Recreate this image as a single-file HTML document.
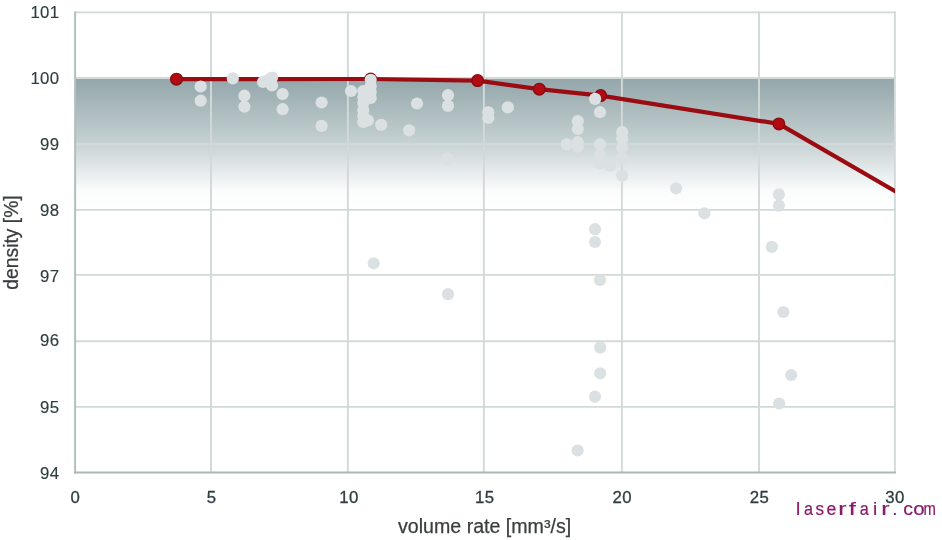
<!DOCTYPE html>
<html><head><meta charset="utf-8"><style>
html,body{margin:0;padding:0;background:#fff;width:942px;height:540px;overflow:hidden}
svg{display:block;will-change:transform}
text{font-family:"Liberation Sans",sans-serif}
</style></head><body>
<svg width="942" height="540" viewBox="0 0 942 540">
<defs>
<linearGradient id="band" x1="0" y1="0" x2="0" y2="1">
<stop offset="0" stop-color="#93a6aa"/>
<stop offset="0.47" stop-color="#c3cfd0"/>
<stop offset="0.86" stop-color="#fbfcfc"/>
<stop offset="1" stop-color="#ffffff"/>
</linearGradient>
<clipPath id="pc"><rect x="75" y="12.5" width="820" height="459"/></clipPath>
</defs>
<rect width="942" height="540" fill="#fff"/>

<rect x="75.1" y="78.11" width="819.8" height="131.43" fill="url(#band)"/>
<line x1="75.1" x2="895.9" y1="406.90" y2="406.90" stroke="#d2d9d9" stroke-width="1.9"/>
<line x1="75.1" x2="895.9" y1="341.20" y2="341.20" stroke="#d2d9d9" stroke-width="1.9"/>
<line x1="75.1" x2="895.9" y1="274.90" y2="274.90" stroke="#d2d9d9" stroke-width="1.9"/>
<line x1="75.1" x2="895.9" y1="209.90" y2="209.90" stroke="#d2d9d9" stroke-width="1.9"/>
<line x1="75.1" x2="895.9" y1="144.30" y2="144.30" stroke="#d2d9d9" stroke-width="1.9"/>
<line x1="75.1" x2="895.9" y1="78.00" y2="78.00" stroke="#d2d9d9" stroke-width="1.9"/>
<line x1="75.1" x2="895.9" y1="12.40" y2="12.40" stroke="#d2d9d9" stroke-width="1.9"/>
<line x1="211.00" x2="211.00" y1="11.4" y2="472.4" stroke="#d2d9d9" stroke-width="1.9"/>
<line x1="347.90" x2="347.90" y1="11.4" y2="472.4" stroke="#d2d9d9" stroke-width="1.9"/>
<line x1="483.90" x2="483.90" y1="11.4" y2="472.4" stroke="#d2d9d9" stroke-width="1.9"/>
<line x1="621.90" x2="621.90" y1="11.4" y2="472.4" stroke="#d2d9d9" stroke-width="1.9"/>
<line x1="759.00" x2="759.00" y1="11.4" y2="472.4" stroke="#d2d9d9" stroke-width="1.9"/>
<line x1="894.90" x2="894.90" y1="11.4" y2="472.4" stroke="#d2d9d9" stroke-width="1.9"/>
<line x1="75.1" x2="75.1" y1="11.4" y2="473.4" stroke="#b3bfbf" stroke-width="2"/>
<line x1="74.1" x2="895.9" y1="472.4" y2="472.4" stroke="#adb6b6" stroke-width="2"/>
<g clip-path="url(#pc)"><polyline points="176.5,79.2 370.7,79.0 477.6,80.6 539.3,89.2 600.7,95.6 778.9,123.9 915.0,202.7" fill="none" stroke="#9a0c12" stroke-width="4.2" stroke-linejoin="round"/></g>
<circle cx="176.5" cy="79.2" r="5.8" fill="#b20b14" stroke="#8a0a10" stroke-width="1.4"/>
<circle cx="370.7" cy="79.0" r="5.8" fill="#b20b14" stroke="#8a0a10" stroke-width="1.4"/>
<circle cx="477.6" cy="80.6" r="5.8" fill="#b20b14" stroke="#8a0a10" stroke-width="1.4"/>
<circle cx="539.3" cy="89.2" r="5.8" fill="#b20b14" stroke="#8a0a10" stroke-width="1.4"/>
<circle cx="600.7" cy="95.6" r="5.8" fill="#b20b14" stroke="#8a0a10" stroke-width="1.4"/>
<circle cx="778.9" cy="123.9" r="5.8" fill="#b20b14" stroke="#8a0a10" stroke-width="1.4"/>
<g fill="#dbe1e2">
<circle cx="200.7" cy="86.5" r="6.1"/>
<circle cx="200.7" cy="100.7" r="6.1"/>
<circle cx="232.8" cy="78.4" r="6.1"/>
<circle cx="244.4" cy="95.7" r="6.1"/>
<circle cx="244.4" cy="106.7" r="6.1"/>
<circle cx="263" cy="82" r="6.1"/>
<circle cx="272" cy="77.5" r="6.1"/>
<circle cx="272" cy="85.5" r="6.1"/>
<circle cx="268" cy="80" r="6.1"/>
<circle cx="282.6" cy="94" r="6.1"/>
<circle cx="282.6" cy="109.2" r="6.1"/>
<circle cx="321.6" cy="102.5" r="6.1"/>
<circle cx="321.6" cy="125.9" r="6.1"/>
<circle cx="351" cy="91" r="6.1"/>
<circle cx="370.7" cy="79.8" r="6.1"/>
<circle cx="370.7" cy="86" r="6.1"/>
<circle cx="370.7" cy="92" r="6.1"/>
<circle cx="370.7" cy="98" r="6.1"/>
<circle cx="363.3" cy="91" r="6.1"/>
<circle cx="363.3" cy="97" r="6.1"/>
<circle cx="363.3" cy="103" r="6.1"/>
<circle cx="363.3" cy="110" r="6.1"/>
<circle cx="363.3" cy="116" r="6.1"/>
<circle cx="363.3" cy="122" r="6.1"/>
<circle cx="367.8" cy="120.4" r="6.1"/>
<circle cx="381.2" cy="124.9" r="6.1"/>
<circle cx="417" cy="103.5" r="6.1"/>
<circle cx="448" cy="95.2" r="6.1"/>
<circle cx="448" cy="105.9" r="6.1"/>
<circle cx="409.1" cy="130.4" r="6.1"/>
<circle cx="447.6" cy="158.7" r="6.1"/>
<circle cx="373.7" cy="263.3" r="6.1"/>
<circle cx="448" cy="294.2" r="6.1"/>
<circle cx="488.3" cy="112.4" r="6.1"/>
<circle cx="488.3" cy="118" r="6.1"/>
<circle cx="507.8" cy="107.4" r="6.1"/>
<circle cx="577.8" cy="121.1" r="6.1"/>
<circle cx="577.8" cy="128.9" r="6.1"/>
<circle cx="595.1" cy="98.9" r="6.1"/>
<circle cx="600" cy="112.2" r="6.1"/>
<circle cx="566.7" cy="144.4" r="6.1"/>
<circle cx="577.8" cy="142.2" r="6.1"/>
<circle cx="577.8" cy="146.7" r="6.1"/>
<circle cx="600" cy="144.4" r="6.1"/>
<circle cx="600" cy="154.4" r="6.1"/>
<circle cx="600" cy="163.3" r="6.1"/>
<circle cx="610" cy="165.6" r="6.1"/>
<circle cx="622.2" cy="132.2" r="6.1"/>
<circle cx="622.2" cy="138.9" r="6.1"/>
<circle cx="622.2" cy="147.8" r="6.1"/>
<circle cx="622.2" cy="158.9" r="6.1"/>
<circle cx="622.2" cy="175.6" r="6.1"/>
<circle cx="595" cy="229.2" r="6.1"/>
<circle cx="595" cy="242" r="6.1"/>
<circle cx="600" cy="280" r="6.1"/>
<circle cx="600.2" cy="347.6" r="6.1"/>
<circle cx="600.2" cy="373.3" r="6.1"/>
<circle cx="595" cy="396.6" r="6.1"/>
<circle cx="577.6" cy="450.5" r="6.1"/>
<circle cx="676.1" cy="188.3" r="6.1"/>
<circle cx="704.4" cy="213.3" r="6.1"/>
<circle cx="778.9" cy="194.4" r="6.1"/>
<circle cx="778.9" cy="205.6" r="6.1"/>
<circle cx="771.8" cy="246.9" r="6.1"/>
<circle cx="783.4" cy="312" r="6.1"/>
<circle cx="791.2" cy="375" r="6.1"/>
<circle cx="779.2" cy="403.5" r="6.1"/>
</g>
<text x="59.4" y="479.3" font-size="16.8" fill="#2f3d3f" stroke="#2f3d3f" stroke-width="0.15" text-anchor="end" letter-spacing="0.3">94</text>
<text x="59.4" y="412.8" font-size="16.8" fill="#2f3d3f" stroke="#2f3d3f" stroke-width="0.15" text-anchor="end" letter-spacing="0.3">95</text>
<text x="59.4" y="346.4" font-size="16.8" fill="#2f3d3f" stroke="#2f3d3f" stroke-width="0.15" text-anchor="end" letter-spacing="0.3">96</text>
<text x="59.4" y="281.8" font-size="16.8" fill="#2f3d3f" stroke="#2f3d3f" stroke-width="0.15" text-anchor="end" letter-spacing="0.3">97</text>
<text x="59.4" y="215.8" font-size="16.8" fill="#2f3d3f" stroke="#2f3d3f" stroke-width="0.15" text-anchor="end" letter-spacing="0.3">98</text>
<text x="59.4" y="149.9" font-size="16.8" fill="#2f3d3f" stroke="#2f3d3f" stroke-width="0.15" text-anchor="end" letter-spacing="0.3">99</text>
<text x="59.4" y="83.8" font-size="16.8" fill="#2f3d3f" stroke="#2f3d3f" stroke-width="0.15" text-anchor="end" letter-spacing="0.3">100</text>
<text x="59.4" y="17.8" font-size="16.8" fill="#2f3d3f" stroke="#2f3d3f" stroke-width="0.15" text-anchor="end" letter-spacing="0.3">101</text>
<text x="75.3" y="502.7" font-size="16.8" fill="#2f3d3f" stroke="#2f3d3f" stroke-width="0.3" text-anchor="middle" letter-spacing="0.4">0</text>
<text x="211.5" y="502.7" font-size="16.8" fill="#2f3d3f" stroke="#2f3d3f" stroke-width="0.3" text-anchor="middle" letter-spacing="0.4">5</text>
<text x="349.1" y="502.7" font-size="16.8" fill="#2f3d3f" stroke="#2f3d3f" stroke-width="0.3" text-anchor="middle" letter-spacing="0.4">10</text>
<text x="484.7" y="502.7" font-size="16.8" fill="#2f3d3f" stroke="#2f3d3f" stroke-width="0.3" text-anchor="middle" letter-spacing="0.4">15</text>
<text x="622.3" y="502.7" font-size="16.8" fill="#2f3d3f" stroke="#2f3d3f" stroke-width="0.3" text-anchor="middle" letter-spacing="0.4">20</text>
<text x="759.4" y="502.7" font-size="16.8" fill="#2f3d3f" stroke="#2f3d3f" stroke-width="0.3" text-anchor="middle" letter-spacing="0.4">25</text>
<text x="895.1" y="502.7" font-size="16.8" fill="#2f3d3f" stroke="#2f3d3f" stroke-width="0.3" text-anchor="middle" letter-spacing="0.4">30</text>
<text x="484.6" y="532.6" font-size="19.6" fill="#3a3e3f" stroke="#3a3e3f" stroke-width="0.25" text-anchor="middle">volume rate [mm³/s]</text>
<text transform="translate(18.3,242.5) rotate(-90)" font-size="19.3" fill="#3a3e3f" stroke="#3a3e3f" stroke-width="0.25" text-anchor="middle">density [%]</text>
<text transform="translate(798.0,514.6) scale(1,1)" x="0" y="0" font-size="19" fill="#8a1a6a" stroke="#8a1a6a" stroke-width="0.2" text-anchor="middle">l</text>
<text transform="translate(808.6,514.6) scale(0.85,1)" x="0" y="0" font-size="19" fill="#8a1a6a" stroke="#8a1a6a" stroke-width="0.2" text-anchor="middle">a</text>
<text transform="translate(819.7,514.6) scale(0.9,1)" x="0" y="0" font-size="19" fill="#8a1a6a" stroke="#8a1a6a" stroke-width="0.2" text-anchor="middle">s</text>
<text transform="translate(831.3,514.6) scale(0.93,1)" x="0" y="0" font-size="19" fill="#8a1a6a" stroke="#8a1a6a" stroke-width="0.2" text-anchor="middle">e</text>
<text transform="translate(842.4,514.6) scale(1.3,1)" x="0" y="0" font-size="19" fill="#8a1a6a" stroke="#8a1a6a" stroke-width="0.2" text-anchor="middle">r</text>
<text transform="translate(852.2,514.6) scale(1.35,1)" x="0" y="0" font-size="19" fill="#8a1a6a" stroke="#8a1a6a" stroke-width="0.2" text-anchor="middle">f</text>
<text transform="translate(864.2,514.6) scale(0.85,1)" x="0" y="0" font-size="19" fill="#8a1a6a" stroke="#8a1a6a" stroke-width="0.2" text-anchor="middle">a</text>
<text transform="translate(875.0,514.6) scale(1,1)" x="0" y="0" font-size="19" fill="#8a1a6a" stroke="#8a1a6a" stroke-width="0.2" text-anchor="middle">i</text>
<text transform="translate(885.4,514.6) scale(1.3,1)" x="0" y="0" font-size="19" fill="#8a1a6a" stroke="#8a1a6a" stroke-width="0.2" text-anchor="middle">r</text>
<text transform="translate(894.8,514.6) scale(1,1)" x="0" y="0" font-size="19" fill="#8a1a6a" stroke="#8a1a6a" stroke-width="0.2" text-anchor="middle">.</text>
<text transform="translate(908.1,514.6) scale(1.03,1)" x="0" y="0" font-size="19" fill="#8a1a6a" stroke="#8a1a6a" stroke-width="0.2" text-anchor="middle">c</text>
<text transform="translate(919.0,514.6) scale(1.08,1)" x="0" y="0" font-size="19" fill="#8a1a6a" stroke="#8a1a6a" stroke-width="0.2" text-anchor="middle">o</text>
<text transform="translate(929.7,514.6) scale(0.78,1)" x="0" y="0" font-size="19" fill="#8a1a6a" stroke="#8a1a6a" stroke-width="0.2" text-anchor="middle">m</text>
</svg></body></html>
